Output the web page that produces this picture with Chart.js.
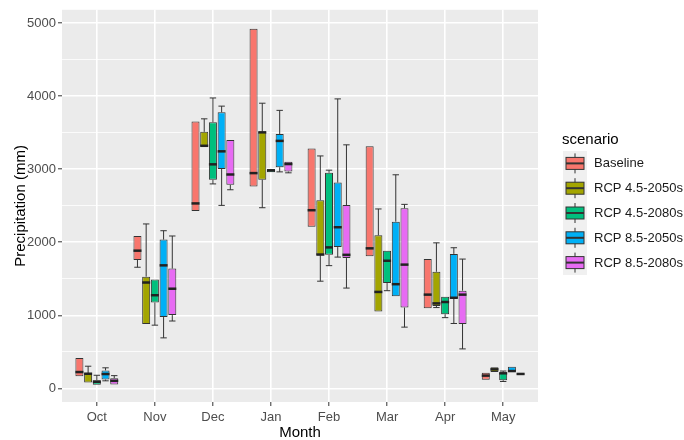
<!DOCTYPE html>
<html>
<head>
<meta charset="utf-8">
<script src="https://cdn.jsdelivr.net/npm/chart.js@4.4.1/dist/chart.umd.min.js"></script>
<style>
  body { margin: 0; background: #fff; }
  #wrap { width: 684px; height: 440px; }
</style>
</head>
<body>
<div id="wrap"><canvas id="myChart"></canvas></div>
<script>
const months = ['Oct', 'Nov', 'Dec', 'Jan', 'Feb', 'Mar', 'Apr', 'May'];
const scenarios = ['Baseline', 'RCP 4.5-2050s', 'RCP 4.5-2080s', 'RCP 8.5-2050s', 'RCP 8.5-2080s'];
const colors = ['#F8766D', '#A3A500', '#00BF7D', '#00B0F6', '#E76BF3'];
const yTicks = [0, 500, 1000, 1500, 2000, 2500, 3000, 3500, 4000, 4500, 5000];

// each row: [min, q1, median, q3, max] for one month
const baseline = [
  [166, 166, 223, 414, 414],
  [1658, 1757, 1885, 2086, 2086],
  [2429, 2429, 2532, 3655, 3655],
  [2763, 2763, 2947, 4925, 4925],
  [2211, 2211, 2439, 3285, 3285],
  [1810, 1810, 1917, 3316, 3316],
  [1096, 1096, 1283, 1770, 1770],
  [116, 116, 174, 214, 214]
];
const rcp45_2050 = [
  [80, 80, 200, 210, 303],
  [882, 882, 1449, 1529, 2251],
  [3312, 3312, 3321, 3512, 3690],
  [2473, 2857, 3505, 3512, 3904],
  [1467, 1824, 1832, 2576, 3182],
  [1052, 1052, 1320, 2095, 2456],
  [1106, 1128, 1163, 1596, 1992],
  [223, 223, 260, 290, 290]
];
const rcp45_2080 = [
  [49, 49, 90, 112, 179],
  [865, 1176, 1275, 1489, 1489],
  [2799, 2857, 3067, 3642, 3976],
  [2960, 2960, 2985, 3000, 3000],
  [1680, 1828, 1930, 2951, 2987],
  [1337, 1444, 1747, 1885, 1885],
  [968, 1016, 1182, 1253, 1253],
  [94, 112, 206, 214, 237]
];
const rcp85_2050 = [
  [103, 120, 196, 246, 281],
  [691, 976, 1684, 2037, 2158],
  [2505, 3004, 3245, 3779, 3864],
  [2964, 3027, 3388, 3481, 3806],
  [1797, 1934, 2206, 2817, 3963],
  [1262, 1262, 1426, 2282, 2924],
  [888, 1235, 1240, 1841, 1925],
  [227, 227, 237, 294, 294]
];
const rcp85_2080 = [
  [53, 53, 103, 139, 174],
  [922, 1003, 1364, 1640, 2086],
  [2719, 2786, 2928, 3401, 3401],
  [2951, 2968, 3071, 3102, 3102],
  [1373, 1783, 1828, 2509, 3334],
  [838, 1106, 1694, 2465, 2519],
  [540, 882, 1283, 1337, 1770],
  [187, 187, 197, 206, 206]
];
const stats = [baseline, rcp45_2050, rcp45_2080, rcp85_2050, rcp85_2080];

const FONT = "'Liberation Sans', Arial, sans-serif";

// grey ggplot panel
const panelBg = {
  id: 'panelBg',
  beforeDraw(chart) {
    const { ctx, chartArea: a } = chart;
    ctx.save();
    ctx.fillStyle = '#EBEBEB';
    ctx.fillRect(a.left, a.top, a.right - a.left, a.bottom - a.top);
    ctx.restore();
  }
};

// whiskers (behind the boxes) and medians (on top)
const boxParts = {
  id: 'boxParts',
  beforeDatasetsDraw(chart) {
    const { ctx } = chart;
    const y = chart.scales.y;
    ctx.save();
    ctx.strokeStyle = '#333';
    ctx.lineWidth = 1;
    stats.forEach((rows, i) => {
      chart.getDatasetMeta(i).data.forEach((bar, j) => {
        const [lo, q1, , q3, hi] = rows[j];
        const half = bar.width * 0.4;
        ctx.beginPath();
        if (hi > q3) {
          ctx.moveTo(bar.x, y.getPixelForValue(q3));
          ctx.lineTo(bar.x, y.getPixelForValue(hi));
          ctx.moveTo(bar.x - half, y.getPixelForValue(hi));
          ctx.lineTo(bar.x + half, y.getPixelForValue(hi));
        }
        if (lo < q1) {
          ctx.moveTo(bar.x, y.getPixelForValue(q1));
          ctx.lineTo(bar.x, y.getPixelForValue(lo));
          ctx.moveTo(bar.x - half, y.getPixelForValue(lo));
          ctx.lineTo(bar.x + half, y.getPixelForValue(lo));
        }
        ctx.stroke();
      });
    });
    ctx.restore();
  },
  afterDatasetsDraw(chart) {
    const { ctx } = chart;
    const y = chart.scales.y;
    ctx.save();
    ctx.strokeStyle = '#222';
    ctx.lineWidth = 2.5;
    stats.forEach((rows, i) => {
      chart.getDatasetMeta(i).data.forEach((bar, j) => {
        const py = y.getPixelForValue(rows[j][2]);
        ctx.beginPath();
        ctx.moveTo(bar.x - bar.width / 2, py);
        ctx.lineTo(bar.x + bar.width / 2, py);
        ctx.stroke();
      });
    });
    ctx.restore();
  }
};

// ggplot style legend on the right
const boxLegend = {
  id: 'boxLegend',
  afterDraw(chart) {
    const { ctx } = chart;
    const left = 563, keyW = 24, keyH = 24.8, top = 151;
    ctx.save();
    ctx.fillStyle = '#000';
    ctx.font = '15px ' + FONT;
    ctx.textBaseline = 'middle';
    ctx.fillText('scenario', 562, 140);
    ctx.fillStyle = '#F0F0F0';
    ctx.fillRect(left, top, keyW, keyH * scenarios.length);
    scenarios.forEach((name, i) => {
      const cy = top + keyH * i + keyH / 2;
      const cx = left + keyW / 2;
      ctx.strokeStyle = '#333';
      ctx.lineWidth = 1;
      ctx.beginPath();
      ctx.moveTo(cx, cy - 10);
      ctx.lineTo(cx, cy + 10);
      ctx.stroke();
      ctx.fillStyle = colors[i];
      ctx.fillRect(cx - 9, cy - 6, 18, 12);
      ctx.strokeRect(cx - 9, cy - 6, 18, 12);
      ctx.lineWidth = 2;
      ctx.beginPath();
      ctx.moveTo(cx - 9, cy);
      ctx.lineTo(cx + 9, cy);
      ctx.stroke();
      ctx.fillStyle = '#1A1A1A';
      ctx.font = '13px ' + FONT;
      ctx.fillText(name, 594, cy + 0.5);
    });
    ctx.restore();
  }
};

const datasets = scenarios.map((name, i) => ({
  label: name,
  data: stats[i].map((r, j) => ({ x: j + 1, y: [r[1], r[3]] })),
  backgroundColor: colors[i],
  borderColor: '#333',
  borderWidth: 1,
  borderSkipped: false
}));

const isMajor = v => v % 1000 === 0;

new Chart(document.getElementById('myChart'), {
  type: 'bar',
  data: { datasets },
  options: {
    responsive: true,
    maintainAspectRatio: false,
    animation: false,
    events: [],
    categoryPercentage: 0.75,
    barPercentage: 0.92,
    layout: { padding: { left: 0, right: 146, top: 0, bottom: 0 } },
    plugins: { legend: { display: false }, tooltip: { enabled: false } },
    scales: {
      x: {
        type: 'linear',
        min: 0.4,
        max: 8.6,
        offset: false,
        afterBuildTicks: s => { s.ticks = months.map((m, i) => ({ value: i + 1 })); },
        afterFit: s => { s.height = 38; },
        border: { display: false },
        grid: { color: '#fff', lineWidth: 1.6, offset: false, tickColor: '#333', tickLength: 4, tickWidth: 1 },
        ticks: {
          callback: (v, i) => months[i],
          color: '#4D4D4D',
          font: { family: FONT, size: 13 },
          padding: 4,
          maxRotation: 0,
          autoSkip: false
        },
        title: { display: true, text: 'Month', color: '#000', font: { family: FONT, size: 15 }, padding: { top: 0, bottom: -2 } }
      },
      y: {
        min: -187,
        max: 5183,
        afterBuildTicks: s => { s.ticks = yTicks.map(v => ({ value: v })); },
        afterFit: s => { s.width = 62; },
        border: { display: false },
        grid: {
          color: '#fff',
          lineWidth: c => (c.tick && isMajor(c.tick.value) ? 1.6 : 0.8),
          tickColor: c => (c.tick && isMajor(c.tick.value) ? '#333' : 'rgba(0,0,0,0)'),
          tickLength: 4,
          tickWidth: 1
        },
        ticks: {
          callback: v => (isMajor(v) ? v : ''),
          color: '#4D4D4D',
          font: { family: FONT, size: 13 },
          padding: 2
        },
        title: { display: true, text: 'Precipitation (mm)', color: '#000', font: { family: FONT, size: 15 }, padding: { top: 12, bottom: 0 } }
      }
    }
  },
  plugins: [panelBg, boxParts, boxLegend]
});
</script>
</body>
</html>
